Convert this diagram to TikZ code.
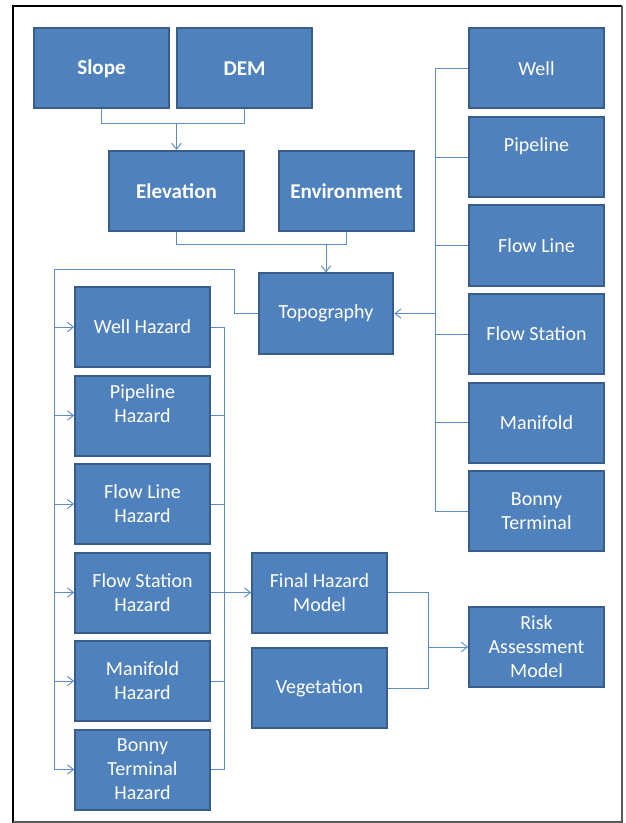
\documentclass[tikz,border=0pt]{standalone}
\usepackage{fontspec}
\setmainfont{Carlito}
\usetikzlibrary{arrows.meta}

\definecolor{boxfill}{RGB}{79,129,189}
\definecolor{boxedge}{RGB}{56,93,138}
\definecolor{linkblue}{RGB}{92,140,200}

\tikzset{
  box/.style={draw=boxedge, fill=boxfill, line width=1.5pt, text=white,
    minimum width=101pt, minimum height=60pt, align=center, inner sep=1pt,
    font=\fontsize{15}{18}\selectfont},
  boldbox/.style={box, font=\fontsize{15.8}{19}\selectfont\bfseries},
  link/.style={draw=linkblue, line width=0.7pt},
  arr/.style={link, -{Straight Barb[length=4.5pt,width=7pt]}}
}

\begin{document}
\begin{tikzpicture}[x=0.75pt,y=0.75pt,yscale=-1,xscale=1]
    \useasboundingbox (0,0) rectangle (625,823);
    %Shape: Frame
    \draw [line width=1.6pt] (13,823) -- (13,6) -- (622,6) ;
    \draw [color=black!65, line width=0.8pt] (622,6) -- (622,822) -- (13,822) ;

    %Shape: Rectangle -- upper inputs
    \node [boldbox] (slope) at (101.5,68.5) {Slope};
    \node [boldbox] (dem) at (244.5,68.5) {DEM};
    \node [boldbox] (elev) at (176.5,191) {Elevation};
    \node [boldbox] (env) at (346.5,191) {Environment};
    \node [box] (topo) at (326,313.5) {Topography};

    %Shape: Rectangle -- facilities
    \node [box] (well) at (536.5,68.5) {Well};
    \node [box] (pipe) at (536.5,157) {Pipeline\\~};
    \node [box] (flowl) at (536.5,245.5) {Flow Line};
    \node [box] (flows) at (536.5,334) {Flow Station};
    \node [box] (manif) at (536.5,422.5) {Manifold};
    \node [box] (bonny) at (536.5,511) {Bonny\\Terminal};

    %Shape: Rectangle -- hazards
    \node [box] (wellh) at (142.5,327) {Well Hazard};
    \node [box] (pipeh) at (142.5,415.5) {Pipeline\\Hazard\\~};
    \node [box] (flowlh) at (142.5,504) {Flow Line\\Hazard};
    \node [box] (flowsh) at (142.5,592.5) {Flow Station\\Hazard};
    \node [box] (manifh) at (142.5,681) {Manifold\\Hazard};
    \node [box] (bonnyh) at (142.5,769.5) {Bonny\\Terminal\\Hazard};

    %Shape: Rectangle -- models
    \node [box] (final) at (319.5,592.5) {Final Hazard\\Model};
    \node [box] (veg) at (319.5,688) {Vegetation};
    \node [box] (risk) at (536.5,647) {Risk\\Assessment\\Model};

    % bus positions
    \coordinate (j1) at (0,123);
    \coordinate (j2) at (0,244);
    \coordinate (rbus) at (435,0);
    \coordinate (lbus) at (54,269);
    \coordinate (hbus) at (224,0);
    \coordinate (mbus) at (428,0);

    %Straight Lines -- slope and DEM to elevation
    \draw [link] (slope.south) |- (j1 -| dem.south) -- (dem.south) ;
    \draw [arr] (elev.north |- j1) -- (elev.north) ;
    %Straight Lines -- elevation and environment to topography
    \draw [link] (elev.south) |- (j2 -| env.south) -- (env.south) ;
    \draw [arr] (topo.north |- j2) -- (topo.north) ;

    %Straight Lines -- facilities to topography
    \draw [link] (well.west) -- (well.west -| rbus) -- (bonny.west -| rbus) -- (bonny.west) ;
    \draw [link] (pipe.west) -- (pipe.west -| rbus) ;
    \draw [link] (flowl.west) -- (flowl.west -| rbus) ;
    \draw [link] (flows.west) -- (flows.west -| rbus) ;
    \draw [link] (manif.west) -- (manif.west -| rbus) ;
    \draw [arr] (topo.east -| rbus) -- (topo.east) ;

    %Straight Lines -- topography to hazards
    \draw [link] (topo.west) -- ++(-23,0) |- (lbus) -- (lbus |- bonnyh.west) ;
    \draw [arr] (lbus |- wellh.west) -- (wellh.west) ;
    \draw [arr] (lbus |- pipeh.west) -- (pipeh.west) ;
    \draw [arr] (lbus |- flowlh.west) -- (flowlh.west) ;
    \draw [arr] (lbus |- flowsh.west) -- (flowsh.west) ;
    \draw [arr] (lbus |- manifh.west) -- (manifh.west) ;
    \draw [arr] (lbus |- bonnyh.west) -- (bonnyh.west) ;

    %Straight Lines -- hazards to final hazard model
    \draw [link] (wellh.east) -- (wellh.east -| hbus) -- (bonnyh.east -| hbus) -- (bonnyh.east) ;
    \draw [link] (pipeh.east) -- (pipeh.east -| hbus) ;
    \draw [link] (flowlh.east) -- (flowlh.east -| hbus) ;
    \draw [link] (flowsh.east) -- (flowsh.east -| hbus) ;
    \draw [link] (manifh.east) -- (manifh.east -| hbus) ;
    \draw [arr] (flowsh.east -| hbus) -- (final.west) ;

    %Straight Lines -- final hazard and vegetation to risk
    \draw [link] (final.east) -| (mbus |- veg.east) -- (veg.east) ;
    \draw [arr] (mbus |- risk.west) -- (risk.west) ;

\end{tikzpicture}
\end{document}
